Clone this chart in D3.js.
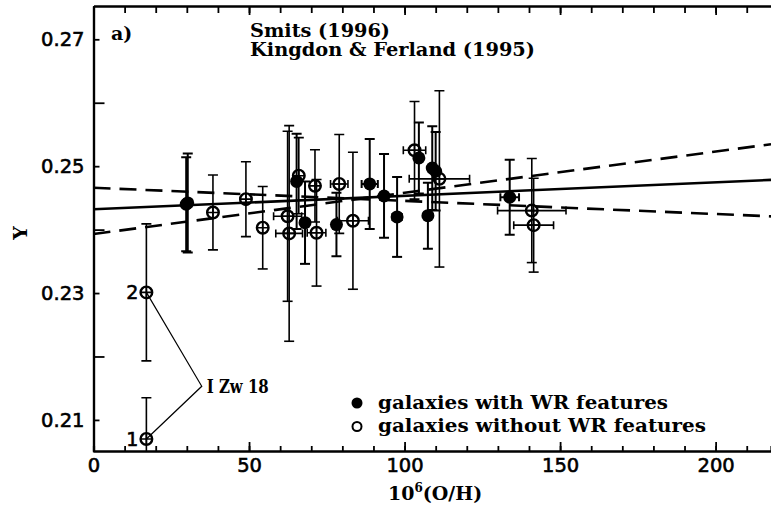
<!DOCTYPE html>
<html>
<head>
<meta charset="utf-8">
<script src="https://cdn.jsdelivr.net/npm/d3@7"></script>
<style>
  body { margin: 0; background: #fff; }
  svg { display: block; }
  .tick text { font-family: "DejaVu Sans", sans-serif; font-size: 19.5px; fill: #000; stroke: #000; stroke-width: 0.6px; }
  .serif { font-family: "DejaVu Serif", serif; font-weight: bold; fill: #000; }
</style>
</head>
<body>
<div id="chart"></div>
<script>
// galaxies with WR features (filled)
const wrX    = [30.3, 29.8, 65.3, 68.0, 78.1, 88.8, 93.4, 97.6, 104.6, 108.9, 110.0, 107.5, 133.8];
const wrY    = [0.2442, 0.2440, 0.2476, 0.2411, 0.2408, 0.2472, 0.2453, 0.2420, 0.2513, 0.2497, 0.2492, 0.2422, 0.2451];
const wrErrY = [0.0078, 0.0074, 0.0075, 0.0065, 0.0050, 0.0071, 0.0066, 0.0063, 0.0056, 0.0066, 0.0062, 0.0052, 0.0059];
const wrErrX = [0, 0, 0, 0, 0, 2.6, 0, 1.5, 0, 0, 0, 0, 3];

// galaxies without WR features (open)
const noX    = [38.4, 49.0, 54.4, 62.4, 62.9, 66.0, 71.2, 71.7, 79.0, 83.4, 103.2, 111.2, 140.9, 141.5];
const noY    = [0.2427, 0.2448, 0.2403, 0.2421, 0.2394, 0.2485, 0.2469, 0.2395, 0.2472, 0.2414, 0.2525, 0.2480, 0.2430, 0.2407];
const noErrY = [0.0059, 0.0059, 0.0065, 0.0134, 0.0170, 0.0060, 0.0057, 0.0084, 0.0078, 0.0108, 0.0077, 0.0139, 0.0082, 0.0074];
const noErrX = [0, 0, 0, 4.5, 4.3, 0, 0, 3, 2.8, 5, 3.6, 9.7, 11, 6.4];

// I Zw 18
const izwLabels = ["1", "2"];
const izwX    = [17.0, 17.0];
const izwY    = [0.2070, 0.2301];
const izwErrY = [0.0065, 0.0108];
const izwVertex = [34.8, 0.2153];

// fits: Y = a + b * (O/H)
const fitNames = ["Smits (1996)", "Kingdon & Ferland (1995) up", "Kingdon & Ferland (1995) down"];
const fitA = [0.2432, 0.2393, 0.2466];
const fitB = [0.0000213, 0.000065, -0.0000207];

const xMajorTicks = [0, 50, 100, 150, 200];
const yMajorTicks = [0.21, 0.23, 0.25, 0.27];
const yMinorTicks = [0.22, 0.24, 0.26];

const width = 771, height = 511;
const svg = d3.select('#chart').append('svg')
  .attr('width', width)
  .attr('height', height);

const x = d3.scaleLinear().domain([0, 217.8]).range([93.5, 771]);
const y = d3.scaleLinear().domain([0.2051, 0.27525]).range([451, 6]);

svg.append('clipPath').attr('id', 'plot')
  .append('rect').attr('x', 93.5).attr('y', 6).attr('width', 771 - 93.5).attr('height', 445);

const plot = svg.append('g').attr('clip-path', 'url(#plot)');

// fit lines
const xs = x.domain();
fitA.forEach((a, i) => {
  plot.append('line')
    .attr('x1', x(xs[0])).attr('y1', y(a + fitB[i] * xs[0]))
    .attr('x2', x(xs[1])).attr('y2', y(a + fitB[i] * xs[1]))
    .attr('stroke', '#000')
    .attr('stroke-width', 2.6)
    .attr('stroke-dasharray', i === 0 ? null : '17 9');
});

function errorBars(xv, yv, ey, ex, w) {
  xv.forEach((d, i) => {
    const cx = x(d), cy = y(yv[i]);
    const g = plot.append('g').attr('stroke', '#000').attr('stroke-width', w);
    const top = y(yv[i] + ey[i]), bot = y(yv[i] - ey[i]);
    g.append('line').attr('x1', cx).attr('x2', cx).attr('y1', top).attr('y2', bot);
    g.append('line').attr('x1', cx - 5).attr('x2', cx + 5).attr('y1', top).attr('y2', top);
    g.append('line').attr('x1', cx - 5).attr('x2', cx + 5).attr('y1', bot).attr('y2', bot);
    if (ex && ex[i]) {
      const l = x(d - ex[i]), r = x(d + ex[i]);
      g.append('line').attr('x1', l).attr('x2', r).attr('y1', cy).attr('y2', cy);
      g.append('line').attr('x1', l).attr('x2', l).attr('y1', cy - 4).attr('y2', cy + 4);
      g.append('line').attr('x1', r).attr('x2', r).attr('y1', cy - 4).attr('y2', cy + 4);
    }
  });
}

errorBars(wrX, wrY, wrErrY, wrErrX, 2);
errorBars(noX, noY, noErrY, noErrX, 1.6);
errorBars(izwX, izwY, izwErrY, null, 1.6);

// markers
function openMarkers(xv, yv) {
  xv.forEach((d, i) => {
    const cx = x(d), cy = y(yv[i]);
    plot.append('circle').attr('cx', cx).attr('cy', cy).attr('r', 5.8)
      .attr('fill', 'none').attr('stroke', '#000').attr('stroke-width', 2.4);
    plot.append('path').attr('d', `M${cx - 5.5},${cy}H${cx + 5.5}M${cx},${cy - 5.5}V${cy + 5.5}`)
      .attr('stroke', '#000').attr('stroke-width', 1.6);
  });
}
plot.selectAll('circle.wr').data(wrX).enter().append('circle')
  .attr('class', 'wr')
  .attr('cx', d => x(d))
  .attr('cy', (d, i) => y(wrY[i]))
  .attr('r', 6.5)
  .attr('fill', '#000');
openMarkers(noX, noY);
openMarkers(izwX, izwY);

// I Zw 18 connector and labels
svg.append('path')
  .attr('d', d3.line()([[x(izwX[1]), y(izwY[1])], [x(izwVertex[0]), y(izwVertex[1])], [x(izwX[0]), y(izwY[0])]]))
  .attr('fill', 'none').attr('stroke', '#000').attr('stroke-width', 1.2);
izwLabels.forEach((t, i) => {
  svg.append('text')
    .attr('x', x(izwX[i]) - 8).attr('y', y(izwY[i]) + 7)
    .attr('text-anchor', 'end')
    .attr('font-family', 'DejaVu Sans, sans-serif').attr('font-size', 19)
    .attr('stroke', '#000').attr('stroke-width', 0.6)
    .text(t);
});
svg.append('text').attr('class', 'serif')
  .attr('x', x(izwVertex[0]) + 5).attr('y', y(izwVertex[1]) + 7)
  .attr('font-size', 19).attr('textLength', 62).attr('lengthAdjust', 'spacingAndGlyphs')
  .text('I Zw 18');

// axes
const axisBottomMinor = d3.axisBottom(x).tickValues(d3.range(10, 220, 10)).tickSize(-5).tickFormat('');
const axisBottomMajor = d3.axisBottom(x).tickValues(xMajorTicks).tickSize(-9).tickPadding(7).tickSizeOuter(0);
const axisTopMinor = d3.axisTop(x).tickValues(d3.range(10, 220, 10)).tickSize(-7).tickFormat('').tickSizeOuter(0);
const axisTopMajor = d3.axisTop(x).tickValues(xMajorTicks).tickSize(-9).tickFormat('').tickSizeOuter(0);
const axisLeftMajor = d3.axisLeft(y).tickValues(yMajorTicks).tickSize(-6).tickPadding(9).tickSizeOuter(0).tickFormat(d3.format('.2f'));
const axisLeftMinor = d3.axisLeft(y).tickValues(yMinorTicks).tickSize(-11).tickFormat('').tickSizeOuter(0);

function styleAxis(g) {
  g.select('.domain').attr('stroke-width', 2.2);
  g.selectAll('.tick line').attr('stroke-width', 1.8);
}
svg.append('g').attr('transform', 'translate(0,451)').call(axisBottomMinor).call(styleAxis);
svg.append('g').attr('transform', 'translate(0,451)').call(axisBottomMajor).call(styleAxis);
svg.append('g').attr('transform', 'translate(0,6)').call(axisTopMinor).call(styleAxis);
svg.append('g').attr('transform', 'translate(0,6)').call(axisTopMajor).call(styleAxis);
svg.append('g').attr('transform', 'translate(93.5,0)').call(axisLeftMajor).call(styleAxis);
svg.append('g').attr('transform', 'translate(93.5,0)').call(axisLeftMinor).call(styleAxis);
svg.selectAll('.tick text').attr('font-family', null).attr('font-size', null);

// axis titles
const xl = svg.append('text').attr('class', 'serif').attr('x', 388).attr('y', 500).attr('font-size', 19);
xl.append('tspan').text('10');
xl.append('tspan').attr('font-size', 12).attr('dy', -8).text('6');
xl.append('tspan').attr('dy', 8).text('(O/H)');

svg.append('text').attr('class', 'serif')
  .attr('transform', 'translate(27,233) rotate(-90)')
  .attr('text-anchor', 'middle').attr('font-size', 19)
  .text('Y');

// panel letter and fit annotations
svg.append('text').attr('class', 'serif').attr('x', 111).attr('y', 40).attr('font-size', 19).text('a)');
svg.append('text').attr('class', 'serif').attr('x', 250).attr('y', 37).attr('font-size', 18)
  .attr('textLength', 140).attr('lengthAdjust', 'spacingAndGlyphs').text('Smits (1996)');
svg.append('text').attr('class', 'serif').attr('x', 250).attr('y', 56).attr('font-size', 18)
  .attr('textLength', 285).attr('lengthAdjust', 'spacingAndGlyphs').text('Kingdon & Ferland (1995)');

// legend
const legendLabels = ['galaxies with WR features', 'galaxies without WR features'];
const legendWidths = [290, 328];
legendLabels.forEach((t, i) => {
  const ly = 403 + i * 23.5;
  if (i === 0) {
    svg.append('circle').attr('cx', 357).attr('cy', ly).attr('r', 5.5).attr('fill', '#000');
  } else {
    svg.append('circle').attr('cx', 357).attr('cy', ly).attr('r', 4.5)
      .attr('fill', 'none').attr('stroke', '#000').attr('stroke-width', 2);
  }
  svg.append('text').attr('class', 'serif')
    .attr('x', 378).attr('y', ly + 5.5).attr('font-size', 18)
    .attr('textLength', legendWidths[i]).attr('lengthAdjust', 'spacingAndGlyphs')
    .text(t);
});
</script>
</body>
</html>
